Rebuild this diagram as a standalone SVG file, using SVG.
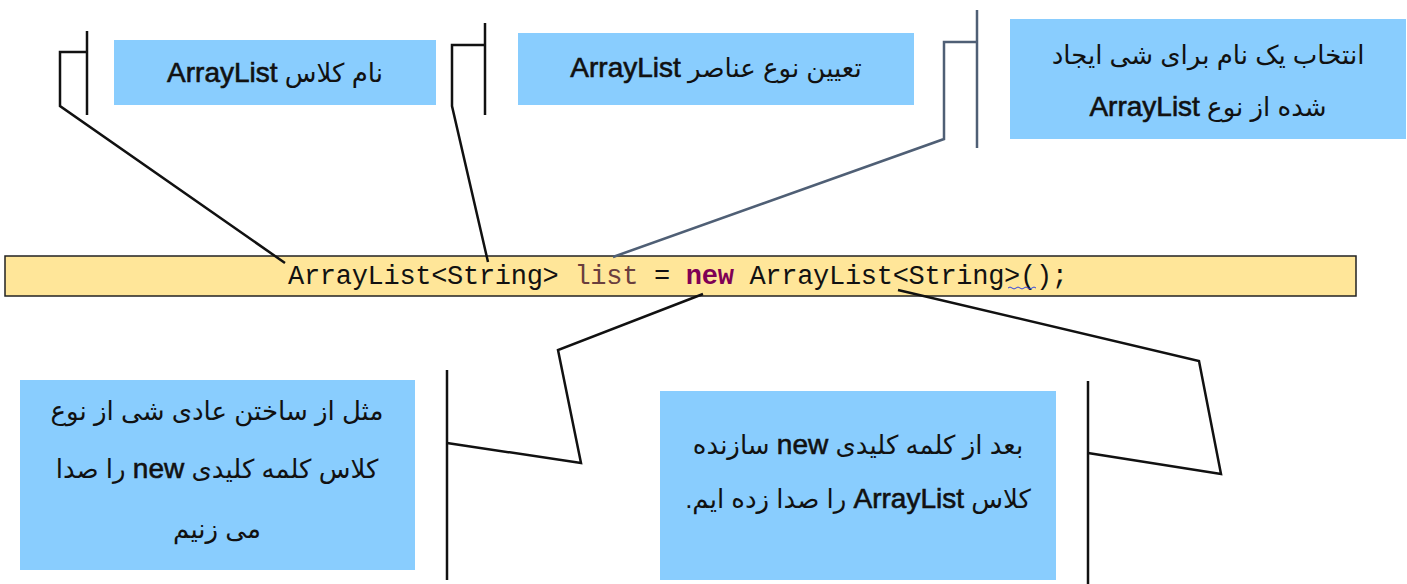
<svg xmlns="http://www.w3.org/2000/svg" width="1407" height="584" viewBox="0 0 1407 584">
<style>
.box{fill:#89CDFE;}
.lbl{font-family:"Liberation Sans","DejaVu Sans","Noto Sans",sans-serif;font-size:26px;fill:#111;text-anchor:middle;direction:rtl;}
.en{font-size:28px;stroke:#111;stroke-width:0.6;}
.conn{fill:none;stroke:#111;stroke-width:2.5;stroke-linejoin:miter;}
.slate{stroke:#4F5F75;}
.code{font-family:"Liberation Mono","DejaVu Sans Mono",monospace;font-size:27px;fill:#111;}
</style>
<rect width="1407" height="584" fill="#ffffff"/>

<g id="codebar">
<rect x="5" y="256" width="1351" height="40" fill="#FFE699" stroke="#222" stroke-width="1.5"/>
<text class="code" x="288" y="284" textLength="780" lengthAdjust="spacing">ArrayList&lt;String&gt; <tspan fill="#6A3E3E">list</tspan> = <tspan fill="#7F0055" font-weight="bold">new</tspan> ArrayList&lt;String&gt;();</text>
<path d="M1008,288 q2,-2 4,0 q2,2 4,0 q2,-2 4,0 q2,2 4,0 q2,-2 4,0 q2,2 4,0 q2,-2 4,0" fill="none" stroke="#3344DD" stroke-width="1"/>
</g>

<g id="node-classname">
<rect class="box" x="114" y="40" width="322" height="65"/>
<text class="lbl" x="275" y="82">نام کلاس <tspan class="en">ArrayList</tspan></text>
</g>

<g id="node-elementtype">
<rect class="box" x="518" y="33" width="396" height="72"/>
<text class="lbl" x="716" y="77">تعیین نوع عناصر <tspan class="en">ArrayList</tspan></text>
</g>

<g id="node-objectname">
<rect class="box" x="1010" y="19" width="396" height="120"/>
<text class="lbl" x="1208" y="64">انتخاب یک نام برای شی ایجاد</text>
<text class="lbl" x="1208" y="116">شده از نوع <tspan class="en">ArrayList</tspan></text>
</g>

<g id="node-newkeyword">
<rect class="box" x="20" y="380" width="395" height="190"/>
<text class="lbl" x="217" y="420">مثل از ساختن عادی شی از نوع</text>
<text class="lbl" x="217" y="478">کلاس کلمه کلیدی <tspan class="en">new</tspan> را صدا</text>
<text class="lbl" x="217" y="538">می زنیم</text>
</g>

<g id="node-constructor">
<rect class="box" x="660" y="391" width="396" height="189"/>
<text class="lbl" x="858" y="454">بعد از کلمه کلیدی <tspan class="en">new</tspan> سازنده</text>
<text class="lbl" x="858" y="508">کلاس <tspan class="en">ArrayList</tspan> را صدا زده ایم.</text>
</g>

<g id="connectors">
<line class="conn" x1="87" y1="31" x2="87" y2="115"/>
<polyline class="conn" points="87,52 60,52 60,106 285,263"/>
<line class="conn" x1="485" y1="23" x2="485" y2="115"/>
<polyline class="conn" points="485,45 452,45 452,106 488,262"/>
<line class="conn slate" x1="977" y1="10" x2="977" y2="148"/>
<polyline class="conn slate" points="977,42 944,42 944,139 613,257"/>
<line class="conn" x1="447" y1="370" x2="447" y2="580"/>
<polyline class="conn" points="703,294 558,350 581,463 447,443"/>
<line class="conn" x1="1088" y1="381" x2="1088" y2="584"/>
<polyline class="conn" points="898,290 1199,361 1221,474 1088,453"/>
</g>
</svg>
